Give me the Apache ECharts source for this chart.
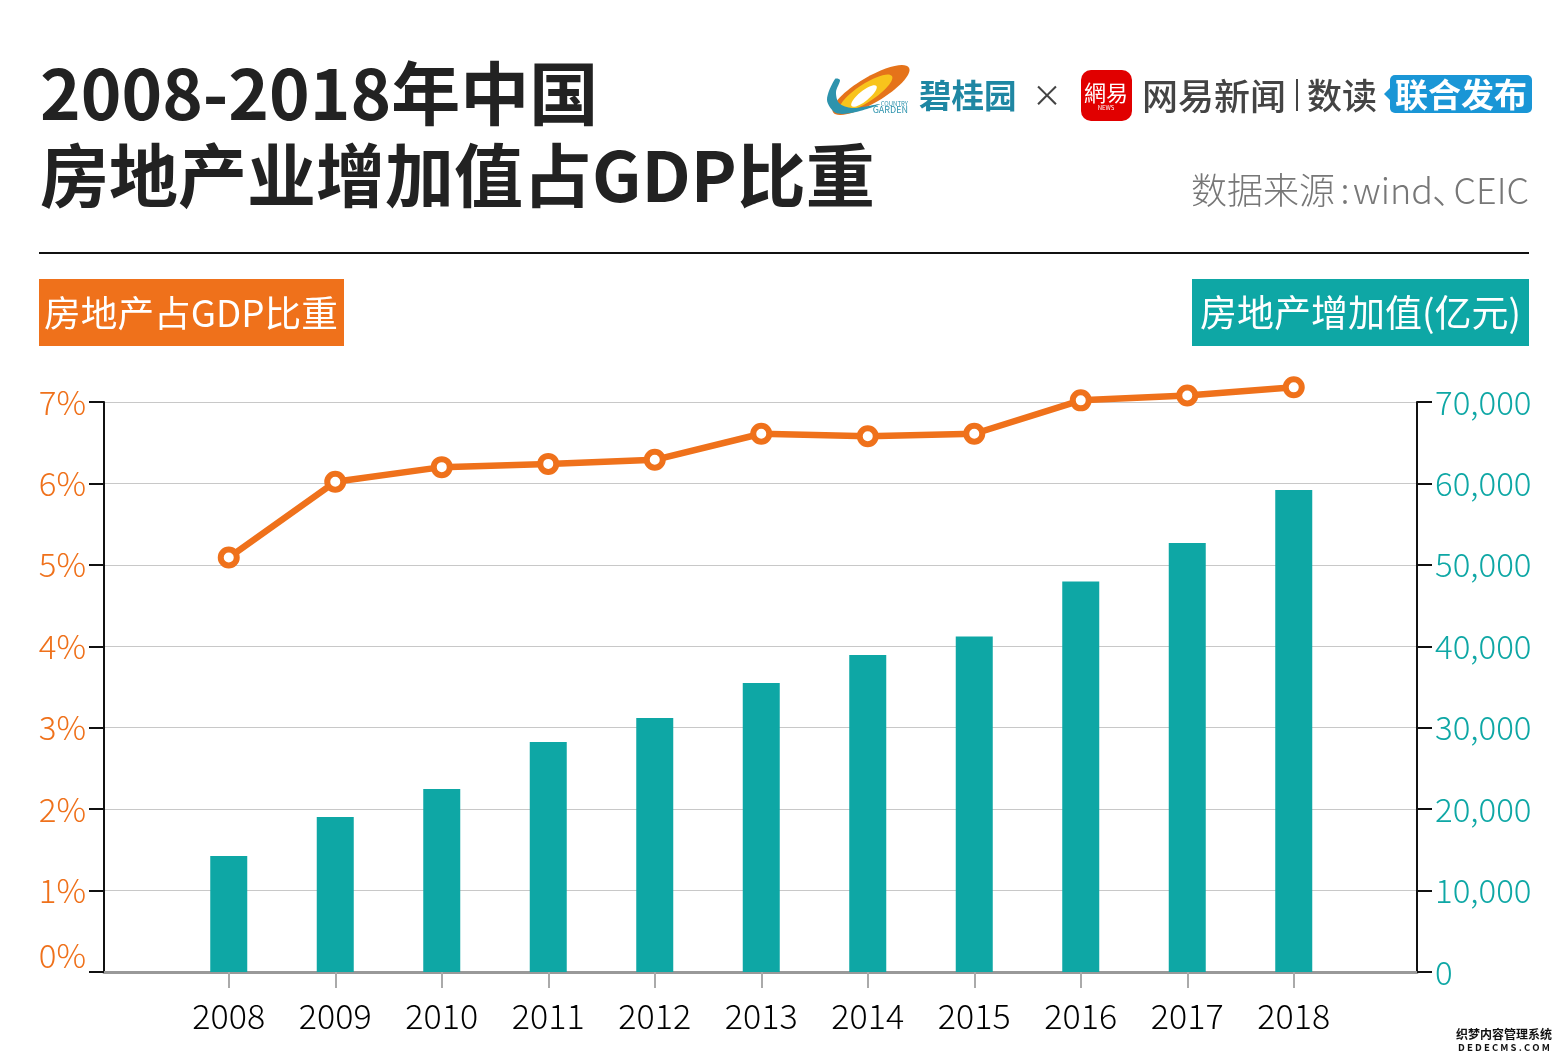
<!DOCTYPE html>
<html>
<head>
<meta charset="UTF-8">
<title>房地产业增加值占GDP比重</title>
<script src="https://cdn.jsdelivr.net/npm/echarts@6/dist/echarts.min.js"></script>
<style>
html,body{margin:0;padding:0;background:#fff;}
#main{width:1563px;height:1061px;}
</style>
</head>
<body>
<div id="main"></div>
<script>
var years = ['2008','2009','2010','2011','2012','2013','2014','2015','2016','2017','2018'];
// 房地产增加值(亿元)
var addedValue = [14250,19030,22470,28250,31190,35490,38930,41200,47950,52680,59190];
// 房地产占GDP比重(%)
var gdpShare = [5.09,6.02,6.20,6.24,6.29,6.61,6.58,6.61,7.02,7.08,7.18];

var font = '"Noto Sans CJK SC","Noto Sans",sans-serif';
var orange = '#ef711b';
var teal = '#0ea7a5';

function txt(x, y, text, size, color, weight, align) {
    return {
        type: 'text', x: x, y: y,
        style: {
            text: text, fontFamily: font, fontSize: size, fontWeight: weight || 'normal',
            fill: color, textAlign: align || 'left', textVerticalAlign: 'middle'
        }
    };
}

var chartDom = document.getElementById('main');
var myChart = echarts.init(chartDom);

var option = {
    backgroundColor: '#fff',
    animation: false,
    // grid 0 carries the long axes and grid lines, grid 1 the narrower year bands
    grid: [
        { left: 104, right: 146, top: 402, bottom: 89 },
        { left: 175.5, right: 216, top: 402, bottom: 89 }
    ],
    xAxis: [
        {
            type: 'category', gridIndex: 0, data: [''],
            axisLine: { lineStyle: { color: '#999', width: 3 } },
            axisTick: { show: false }, axisLabel: { show: false }
        },
        {
            type: 'category', gridIndex: 1, data: years,
            axisLine: { show: true, lineStyle: { color: '#999', width: 3 } },
            axisTick: { show: true, alignWithLabel: true, length: 16, lineStyle: { color: '#aaa', width: 2 } },
            axisLabel: { color: '#000', fontSize: 34, fontFamily: font, margin: 27, fontWeight: 300 }
        }
    ],
    yAxis: [
        {
            type: 'value', gridIndex: 0, min: 0, max: 7, interval: 1, position: 'left',
            axisLine: { show: true, lineStyle: { color: '#111', width: 2 } },
            axisTick: { show: true, length: 15, lineStyle: { color: '#111', width: 2 } },
            axisLabel: {
                color: orange, fontSize: 33, fontFamily: font, margin: 18, fontWeight: 300,
                formatter: '{value}%', verticalAlignMinLabel: 'bottom'
            },
            splitLine: { lineStyle: { color: '#c8c8c8', width: 1.2 } }
        },
        {
            type: 'value', gridIndex: 0, min: 0, max: 70000, interval: 10000, position: 'right',
            axisLine: { show: true, lineStyle: { color: '#111', width: 2 } },
            axisTick: { show: true, length: 15, lineStyle: { color: '#111', width: 2 } },
            axisLabel: {
                color: teal, fontSize: 33, fontFamily: font, margin: 18, fontWeight: 300,
                formatter: function (v) { return v.toLocaleString('en-US'); }
            },
            splitLine: { show: false }
        },
        { type: 'value', gridIndex: 1, min: 0, max: 7, show: false },
        { type: 'value', gridIndex: 1, min: 0, max: 70000, show: false }
    ],
    series: [
        {
            name: '房地产增加值(亿元)', type: 'bar', xAxisIndex: 1, yAxisIndex: 3,
            data: addedValue, barWidth: 37, itemStyle: { color: teal }
        },
        {
            name: '房地产占GDP比重', type: 'line', xAxisIndex: 1, yAxisIndex: 2,
            data: gdpShare, clip: false, symbol: 'circle', symbolSize: 16,
            lineStyle: { color: orange, width: 6.5 },
            itemStyle: { color: '#fff', borderColor: orange, borderWidth: 6 }
        }
    ],
    graphic: [
        txt(40, 94, '2008-2018年中国', 69, '#222', 'bold'),
        txt(40, 176, '房地产业增加值占GDP比重', 69, '#222', 'bold'),
        txt(1191, 190, '数据来源', 36, '#777', 300),
        txt(1345, 190, ':', 36, '#777', 300, 'center'),
        txt(1433, 190, 'wind', 36, '#777', 300, 'right'),
        txt(1432, 190, '、', 36, '#777', 300),
        txt(1529, 190, 'CEIC', 36, '#777', 300, 'right'),
        { type: 'line', shape: { x1: 39, y1: 253, x2: 1529, y2: 253 }, style: { stroke: '#111', lineWidth: 2 } },

        { type: 'rect', shape: { x: 39, y: 279, width: 305, height: 67 }, style: { fill: orange } },
        txt(44, 313, '房地产占GDP比重', 36.7, '#fff'),
        { type: 'rect', shape: { x: 1192, y: 279, width: 337, height: 67 }, style: { fill: teal } },
        txt(1200, 313, '房地产增加值(亿元)', 37, '#fff'),

        // 碧桂园 logo
        { type: 'ellipse', x: 871, y: 90, rotation: 0.53, shape: { cx: 0, cy: 0, rx: 44, ry: 13 }, style: { fill: '#e5731a' } },
        { type: 'ellipse', x: 866, y: 93, rotation: 0.58, shape: { cx: 0, cy: 0, rx: 31, ry: 9 }, style: { fill: '#f8c41c' } },
        { type: 'ellipse', x: 864, y: 96, rotation: 0.68, shape: { cx: 0, cy: 0, rx: 16, ry: 5 }, style: { fill: '#fff' } },
        {
            type: 'polygon',
            shape: { points: [[835, 79], [827, 100], [836, 113], [856, 112], [880, 104], [852, 108], [839, 103], [836, 92], [840, 80]], smooth: 0.3 },
            style: { fill: '#2d93ad' }
        },
        txt(908, 104, 'COUNTRY', 6, '#2d93ad', 'normal', 'right'),
        txt(908, 110, 'GARDEN', 9, '#2d93ad', 'normal', 'right'),
        txt(919, 96, '碧桂园', 32.5, '#1f87a3', 'bold'),
        txt(1047, 95, '×', 30, '#444', 'normal', 'center'),

        // 网易 logo
        { type: 'rect', shape: { x: 1081, y: 70, width: 51, height: 51, r: 10 }, style: { fill: '#e10000' } },
        txt(1106, 93, '網易', 22, '#fff', 'normal', 'center'),
        txt(1106, 108, 'NEWS', 6, '#fff', 'normal', 'center'),
        txt(1142, 96, '网易新闻', 36, '#444', 500),
        { type: 'line', shape: { x1: 1297, y1: 79, x2: 1297, y2: 111 }, style: { stroke: '#444', lineWidth: 2 } },
        txt(1307, 96, '数读', 35, '#444', 500),

        { type: 'polygon', shape: { points: [[1390, 88], [1384, 94], [1390, 100]] }, style: { fill: '#1a96d6' } },
        { type: 'rect', shape: { x: 1390, y: 75, width: 142, height: 38, r: 5 }, style: { fill: '#1a96d6' } },
        txt(1461, 94, '联合发布', 33, '#fff', 'bold', 'center'),

        // 水印
        {
            type: 'text', x: 1504, y: 1034,
            style: { text: '织梦内容管理系统', fontFamily: font, fontSize: 12, fontWeight: 'bold', fill: '#111', stroke: '#fff', lineWidth: 2, textAlign: 'center', textVerticalAlign: 'middle' }
        },
        {
            type: 'text', x: 1504, y: 1047,
            style: { text: 'D E D E C M S . C O M', fontFamily: font, fontSize: 9.5, fontWeight: 'bold', fill: '#111', stroke: '#fff', lineWidth: 2, textAlign: 'center', textVerticalAlign: 'middle' }
        }
    ]
};

myChart.setOption(option);
</script>
</body>
</html>
